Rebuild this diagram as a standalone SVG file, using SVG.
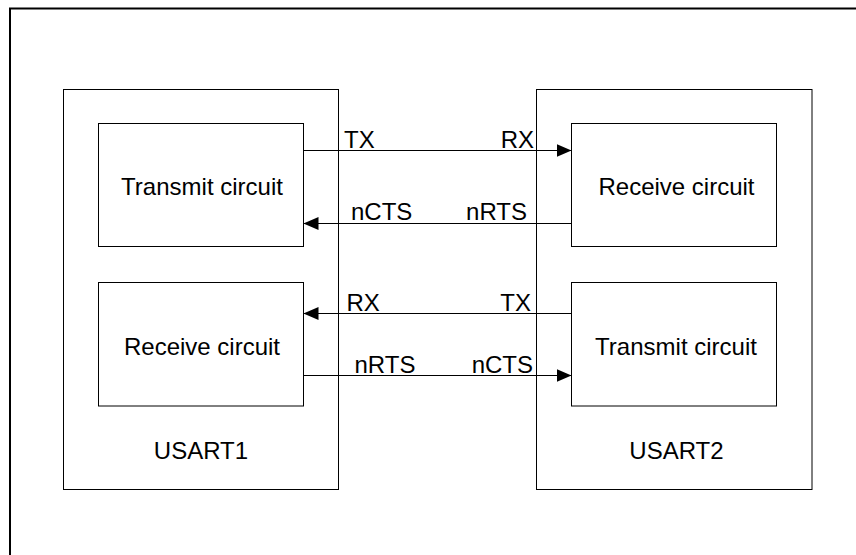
<svg xmlns="http://www.w3.org/2000/svg" width="856" height="555" viewBox="0 0 856 555">
  <defs>
    <style>
      .frame { fill: none; stroke: #000; stroke-width: 2; }
      .box { fill: #fff; stroke: #000; stroke-width: 1; }
      .usart { fill: none; stroke: #000; stroke-width: 1; }
      .wire { fill: none; stroke: #000; stroke-width: 1; }
      text { font-family: "Liberation Sans", Arial, sans-serif; font-size: 24px; fill: #000; }
      .mid { text-anchor: middle; }
      .end { text-anchor: end; }
    </style>
    <marker id="arrow" viewBox="0 0 15 13" refX="15" refY="6.5" markerWidth="15" markerHeight="13" markerUnits="userSpaceOnUse" orient="auto">
      <path d="M0,0 L15,6.5 L0,13 Z" fill="#000"/>
    </marker>
  </defs>
  <rect width="856" height="555" fill="#fff"/>
  <rect class="frame" x="10" y="8.5" width="900" height="600"/>

  <g id="usart1">
    <rect class="usart" x="63.5" y="89.5" width="275" height="400"/>
    <text class="mid" x="201" y="459">USART1</text>
  </g>
  <g id="usart2">
    <rect class="usart" x="536.5" y="89.5" width="275.5" height="400"/>
    <text class="mid" x="676.5" y="459">USART2</text>
  </g>

  <g id="connectors">
    <line class="wire" x1="303.5" y1="150.5" x2="571.5" y2="150.5" marker-end="url(#arrow)"/>
    <line class="wire" x1="571.5" y1="223.5" x2="303.5" y2="223.5" marker-end="url(#arrow)"/>
    <line class="wire" x1="571.5" y1="313.5" x2="303.5" y2="313.5" marker-end="url(#arrow)"/>
    <line class="wire" x1="303.5" y1="375.5" x2="571.5" y2="375.5" marker-end="url(#arrow)"/>
    <text x="344" y="147.5">TX</text>
    <text class="end" x="534" y="147.5">RX</text>
    <text x="351" y="220">nCTS</text>
    <text class="end" x="527" y="220">nRTS</text>
    <text x="346.5" y="311">RX</text>
    <text class="end" x="531" y="311">TX</text>
    <text x="354.5" y="373">nRTS</text>
    <text class="end" x="533" y="373">nCTS</text>
  </g>

  <g id="tx1">
    <rect class="box" x="98.5" y="123.5" width="205" height="123"/>
    <text class="mid" x="202" y="195">Transmit circuit</text>
  </g>
  <g id="rx1">
    <rect class="box" x="98.5" y="282.5" width="205" height="123.5"/>
    <text class="mid" x="202" y="355">Receive circuit</text>
  </g>
  <g id="rx2">
    <rect class="box" x="571.5" y="123.5" width="205" height="123"/>
    <text class="mid" x="676.5" y="195">Receive circuit</text>
  </g>
  <g id="tx2">
    <rect class="box" x="571.5" y="282.5" width="205" height="123.5"/>
    <text class="mid" x="676" y="355">Transmit circuit</text>
  </g>
</svg>
